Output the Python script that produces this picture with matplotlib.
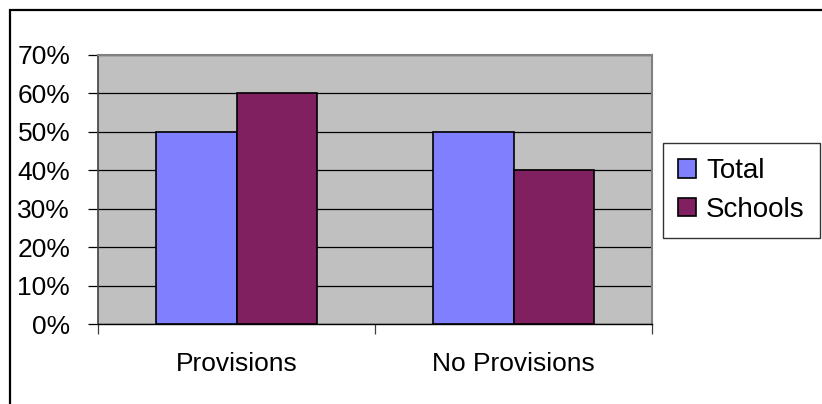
import matplotlib.pyplot as plt
from matplotlib.patches import Rectangle
import numpy as np

# データ
categories = ["Provisions", "No Provisions"]
total = [0.50, 0.50]
schools = [0.60, 0.40]
series_names = ["Total", "Schools"]
yticks = [0, 0.1, 0.2, 0.3, 0.4, 0.5, 0.6, 0.7]

plt.rcParams['font.family'] = ['Liberation Sans', 'DejaVu Sans']

W, H = 822, 404
fig = plt.figure(figsize=(W / 100, H / 100), dpi=100)

# 外枠 (右・下は画像外へはみ出す)
fig.patches.append(Rectangle((10 / W, -0.1), 1.2, 1 - 10 / H + 0.1,
                             transform=fig.transFigure, fill=False,
                             edgecolor='black', linewidth=1.6))

ax = fig.add_axes([98 / W, 1 - 324 / H, (652 - 98) / W, (324 - 55) / H])
ax.set_facecolor('#C0C0C0')

x = np.arange(len(categories))
w = 0.29
b1 = ax.bar(x - w / 2, total, w, color='#8080FF', edgecolor='black', linewidth=1.2, zorder=3, label=series_names[0])
b2 = ax.bar(x + w / 2, schools, w, color='#802060', edgecolor='black', linewidth=1.2, zorder=3, label=series_names[1])

ax.set_xlim(-0.5, len(categories) - 0.5)
ax.set_ylim(0, 0.7)
ax.set_yticks(yticks)
ax.set_yticklabels([f"{int(round(v * 100))}%" for v in yticks], fontsize=19)
ax.yaxis.grid(True, color='black', linewidth=0.9, zorder=1)
ax.set_axisbelow(True)
ax.tick_params(axis='y', length=7, width=0.9, pad=13, color='black')

ax.set_xticks(x)
ax.set_xticklabels(categories, fontsize=19)
ax.set_xticks(np.arange(-0.5, len(categories)), minor=True)
ax.tick_params(axis='x', which='major', length=0, pad=20)
ax.tick_params(axis='x', which='minor', length=7, width=0.9, color='#404040')

for s in ['top', 'right']:
    ax.spines[s].set_color('#808080')
    ax.spines[s].set_linewidth(1.5)
ax.spines['left'].set_color('#404040')
ax.spines['left'].set_linewidth(1.2)
ax.spines['bottom'].set_color('black')
ax.spines['bottom'].set_linewidth(1.0)

leg = fig.legend(handles=[b1, b2], labels=series_names, loc='upper left',
                 bbox_to_anchor=(663 / W, 1 - 143 / H), borderaxespad=0,
                 fontsize=20, frameon=True, fancybox=False, shadow=False,
                 handlelength=0.65, handleheight=0.65, handletextpad=0.35,
                 labelspacing=0.45, borderpad=0.55)
leg.get_frame().set_edgecolor('black')
leg.get_frame().set_linewidth(1.0)

fig.savefig("out.png", dpi=100)
